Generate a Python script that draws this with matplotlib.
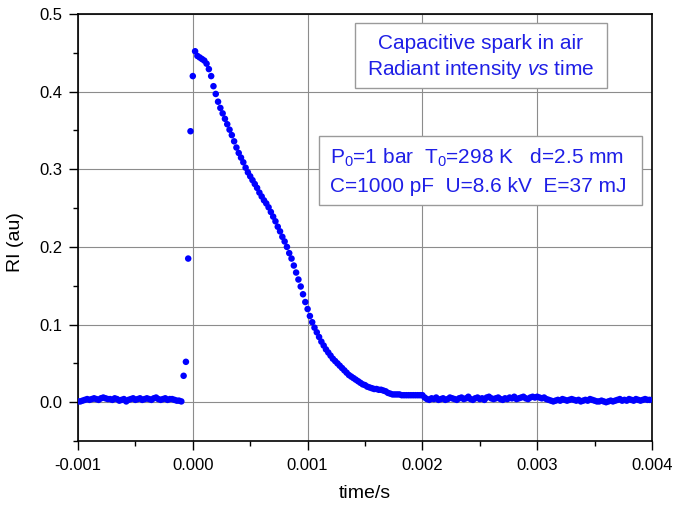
import numpy as np
import matplotlib
matplotlib.use("Agg")
import matplotlib.pyplot as plt
from matplotlib.patches import Rectangle
from matplotlib.ticker import MultipleLocator, FormatStrFormatter

plt.rcParams['font.family'] = ['Liberation Sans', 'DejaVu Sans']
plt.rcParams['mathtext.fontset'] = 'custom'
plt.rcParams['mathtext.rm'] = 'Liberation Sans'
plt.rcParams['mathtext.it'] = 'Liberation Sans:italic'

# sampling grid (s): first sample and interval
t_first = -0.00100
t_step = 0.00002

# radiant intensity (au), before the spark: -1.00 ms .. -0.10 ms
ri_before = [0.001, 0.001, 0.002, 0.003, 0.004, 0.003, 0.004, 0.005, 0.004, 0.003,
             0.005, 0.006, 0.005, 0.004, 0.004, 0.003, 0.005, 0.004, 0.002, 0.003,
             0.004, 0.001, 0.003, 0.004, 0.005, 0.003, 0.004, 0.005, 0.003, 0.004,
             0.005, 0.004, 0.003, 0.005, 0.006, 0.004, 0.003, 0.004, 0.005, 0.003,
             0.004, 0.004, 0.003, 0.002, 0.002, 0.001]

# the pulse: -0.08 ms .. 2.00 ms
ri_pulse = [0.034, 0.052, 0.185, 0.349, 0.420, 0.452, 0.446, 0.444, 0.442, 0.440,
            0.436, 0.429, 0.420, 0.407, 0.397, 0.387, 0.379, 0.372, 0.365, 0.358,
            0.351, 0.344, 0.336, 0.328, 0.321, 0.315, 0.309, 0.302, 0.296, 0.291,
            0.286, 0.281, 0.276, 0.270, 0.265, 0.260, 0.256, 0.251, 0.245, 0.239,
            0.233, 0.226, 0.220, 0.213, 0.207, 0.200, 0.192, 0.185, 0.176, 0.167,
            0.158, 0.149, 0.139, 0.129, 0.120, 0.111, 0.103, 0.096, 0.090, 0.084,
            0.078, 0.073, 0.068, 0.064, 0.060, 0.056, 0.053, 0.050, 0.047, 0.044,
            0.041, 0.038, 0.035, 0.033, 0.031, 0.029, 0.027, 0.025, 0.023, 0.022,
            0.020, 0.019, 0.018, 0.017, 0.017, 0.016, 0.016, 0.015, 0.014, 0.012,
            0.011, 0.010, 0.010, 0.010, 0.010, 0.009, 0.009, 0.009, 0.009, 0.009,
            0.009, 0.009, 0.009, 0.009, 0.009]

# after the pulse: 2.02 ms .. 3.98 ms
ri_after = [0.006, 0.004, 0.003, 0.005, 0.004, 0.006, 0.003, 0.004, 0.005, 0.003,
            0.004, 0.006, 0.005, 0.004, 0.003, 0.005, 0.006, 0.004, 0.005, 0.007,
            0.004, 0.003, 0.005, 0.006, 0.004, 0.005, 0.003, 0.006, 0.007, 0.005,
            0.004, 0.005, 0.006, 0.004, 0.003, 0.005, 0.004, 0.006, 0.005, 0.007,
            0.004, 0.005, 0.006, 0.007, 0.005, 0.004, 0.006, 0.007, 0.006,
            0.007, 0.006, 0.005, 0.006, 0.004, 0.003, 0.002, 0.001, 0.002, 0.003,
            0.002, 0.004, 0.003, 0.002, 0.003, 0.004, 0.003, 0.002, 0.003, 0.001,
            0.002, 0.003, 0.002, 0.004, 0.003, 0.002, 0.001, 0.001, 0.002, 0.001,
            0.000, 0.001, 0.002, 0.001, 0.002, 0.003, 0.004, 0.002, 0.003, 0.002,
            0.004, 0.003, 0.002, 0.004, 0.003, 0.002, 0.003, 0.004, 0.003, 0.003]

ri = np.array(ri_before + ri_pulse + ri_after)
time = t_first + t_step * np.arange(len(ri))

title_lines = "Capacitive spark in air\nRadiant intensity $\\mathit{vs}$ time"
cond_lines = ("P$_0$=1 bar  T$_0$=298 K   d=2.5 mm\n"
              "C=1000 pF  U=8.6 kV  E=37 mJ")

text_blue = '#1f1fe6'

fig = plt.figure(figsize=(6.73, 5.05), dpi=100)
ax = fig.add_axes([0.1159, 0.1267, 0.8529, 0.8456])

ax.scatter(time, ri, s=22, color='#0000ff', edgecolors='none', zorder=3)

ax.set_xlim(-0.001, 0.004)
ax.set_ylim(-0.05, 0.5)
ax.xaxis.set_major_locator(MultipleLocator(0.001))
ax.xaxis.set_minor_locator(MultipleLocator(0.0005))
ax.yaxis.set_major_locator(MultipleLocator(0.1))
ax.yaxis.set_minor_locator(MultipleLocator(0.05))
ax.xaxis.set_major_formatter(FormatStrFormatter('%.3f'))
ax.yaxis.set_major_formatter(FormatStrFormatter('%.1f'))
ax.tick_params(which='major', direction='out', length=6.5, width=1.0,
               labelsize=12, pad=4.5)
ax.tick_params(which='minor', direction='out', length=3.5, width=1.0)
ax.tick_params(axis='x', which='major', pad=5.5)

ax.grid(True, which='major', color='#8c8c8c', linewidth=0.8, zorder=0)
ax.set_axisbelow(True)
for sp in ax.spines.values():
    sp.set_linewidth(1.2)

ax.set_xlabel('time/s', fontsize=14)
ax.set_ylabel('RI (au)', fontsize=14)
ax.xaxis.set_label_coords(0.5, -0.103)
ax.yaxis.set_label_coords(-0.094, 0.466)

# text boxes
ax.add_patch(Rectangle((0.4826, 0.8267), 0.4390, 0.1511, transform=ax.transAxes,
                       facecolor='white', edgecolor='#9a9a9a', linewidth=1.0, zorder=4))
ax.text(0.702, 0.898, title_lines, transform=ax.transAxes, ha='center', va='center',
        fontsize=15, color=text_blue, linespacing=1.3, zorder=5)

ax.add_patch(Rectangle((0.4199, 0.5527), 0.5627, 0.1616, transform=ax.transAxes,
                       facecolor='white', edgecolor='#9a9a9a', linewidth=1.0, zorder=4))
ax.text(0.439, 0.632, cond_lines, transform=ax.transAxes, ha='left', va='center',
        fontsize=15, color=text_blue, linespacing=1.5, zorder=5)

fig.savefig('out.png', dpi=100)
